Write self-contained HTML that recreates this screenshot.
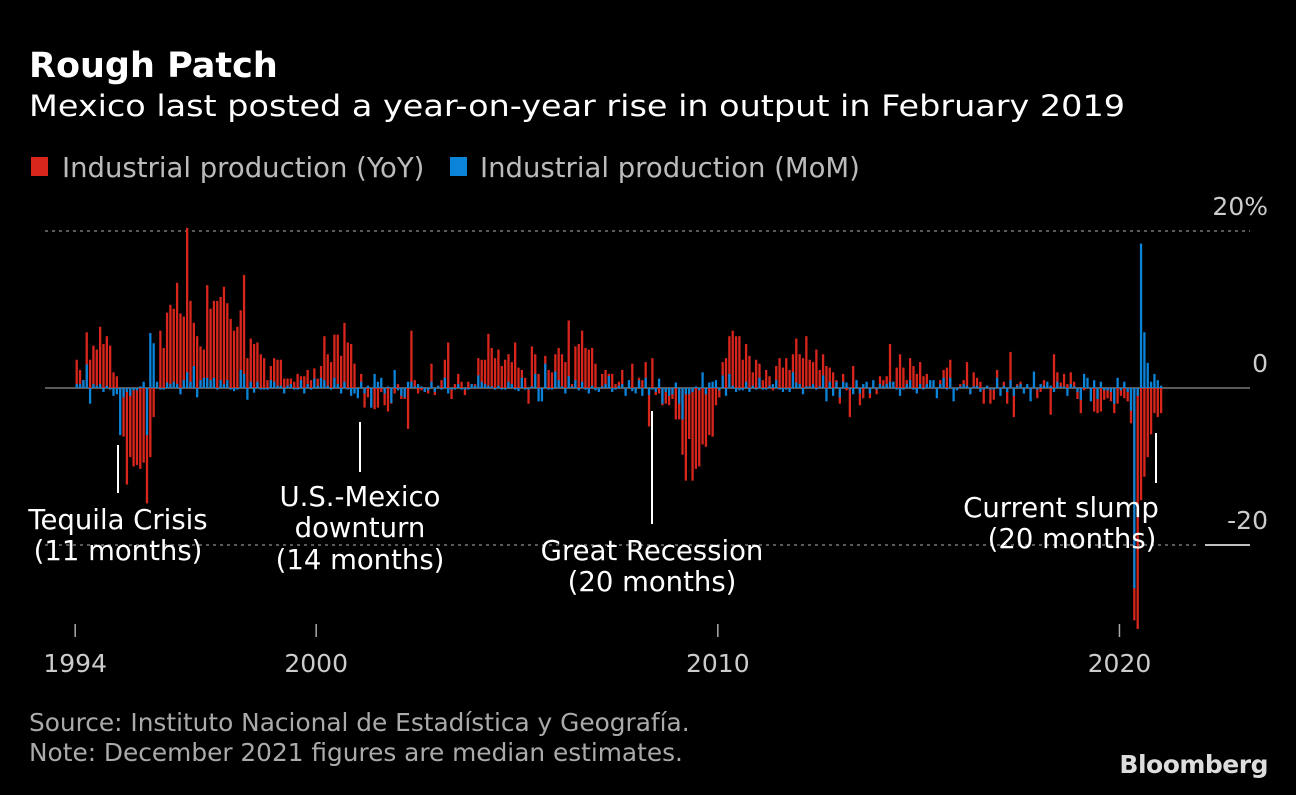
<!DOCTYPE html>
<html><head><meta charset="utf-8">
<style>
html,body{margin:0;padding:0;background:#000;}
body{width:1296px;height:790px;overflow:hidden;font-family:"Liberation Sans","DejaVu Sans",sans-serif;color:#fff;}
svg text{font-family:"DejaVu Sans","Liberation Sans",sans-serif;}
</style></head>
<body>
<svg id="chart" width="1296" height="790" viewBox="0 0 1296 790" xmlns="http://www.w3.org/2000/svg">
<text x="29" y="77" font-size="35" font-weight="bold" fill="#fff">Rough Patch</text>
<text x="29" y="116" font-size="29" fill="#fff" textLength="1096" lengthAdjust="spacingAndGlyphs">Mexico last posted a year-on-year rise in output in February 2019</text>
<g>
<rect x="31" y="157" width="17" height="19" fill="#d9261c"/>
<text x="62" y="177" font-size="27.5" fill="#bbb">Industrial production (YoY)</text>
<rect x="450" y="157" width="17" height="19" fill="#0a84d9"/>
<text x="480" y="177" font-size="27.5" fill="#bbb">Industrial production (MoM)</text>
</g>
<g id="grid"></g>
<g id="bars"></g>
<g id="axis"></g>
<g id="yaxis"></g>
<g id="notes"></g>
<text x="29" y="731" font-size="24.8" fill="#aaa">Source: Instituto Nacional de Estadística y Geografía.</text>
<text x="29" y="761" font-size="24.8" fill="#aaa">Note: December 2021 figures are median estimates.</text>
<text x="1268" y="773" font-size="25" font-weight="bold" fill="#ddd" text-anchor="end" font-family="Liberation Sans, sans-serif" letter-spacing="-0.5">Bloomberg</text>
</svg>
<script>
const yoy = [3.6,2.3,1.0,7.1,3.6,5.4,4.9,7.8,5.6,6.6,5.4,2.0,1.5,-0.5,-6.2,-12.3,-8.8,-10,-9.8,-10.3,-9.5,-14.7,-8.8,-3.7,0.3,7.3,5.1,9.6,10.6,10.1,13.4,9.5,9.1,20.4,11.1,8.3,6.6,5.3,4.9,13.1,10.1,11.1,11.1,11.6,12.9,10.8,8.8,7.3,7.8,9.9,14.4,3.8,6.3,5.6,5.8,4.3,3.8,1.0,2.8,3.8,3.6,
3.6,1.2,1.2,1.2,0.8,1.8,1.5,1.5,2.3,1.0,2.5,1.2,2.8,6.6,4.3,3.3,6.8,6.8,4.1,8.3,5.8,5.6,3.1,-0.3,1.8,-2.5,-1.2,-2.5,-2.7,-2.5,-0.5,-2.2,-3.0,-2.0,-0.7,0.5,-1.4,-1.4,-5.2,7.3,1.0,-0.7,-0.3,-0.5,-0.7,3.1,-0.9,0.2,1.0,3.6,5.8,-1.4,0.5,1.8,0.8,-0.9,0.8,0.5,0.5,3.8,3.6,3.6,
6.9,5.1,3.8,4.9,2.8,3.6,4.3,3.3,5.8,2.6,2.3,1.3,-2.0,5.3,4.3,1.8,-0.3,4.1,2.3,2.0,4.3,5.1,4.3,3.3,8.6,0.5,5.3,5.6,7.3,5.1,4.9,5.1,3.1,-0.2,1.8,2.3,1.8,1.8,0.5,0.8,2.3,-0.3,0.2,3.1,-0.3,1.3,
1.0,3.3,-4.9,3.8,-0.9,-0.7,-2.2,-2.0,-2.2,-1.4,-4.0,-4.0,-8.5,-11.8,-6.5,-11.8,-10.3,-10.0,-7.2,-7.5,-6.0,-6.2,-2.2,-1.2,3.3,3.8,6.6,7.3,6.6,6.6,3.6,5.6,4.1,2.0,3.6,3.1,1.0,2.3,1.5,-0.3,2.8,3.8,2.6,3.8,2.3,4.3,6.3,4.3,3.8,6.6,3.6,3.3,4.9,2.3,4.3,2.8,2.6,2.0,1.0,-2.0,1.8,-0.3,-3.7,
2.8,0.3,-2.2,-1.3,0.3,-1.3,0.2,-0.8,1.5,1.0,1.5,5.6,0.8,2.6,4.3,2.6,1.0,3.8,2.8,1.8,3.3,1.5,1.8,0.8,0.2,-0.2,1.0,2.3,2.6,3.6,-0.3,-0.2,0.5,1.0,3.3,-0.8,2.0,1.3,0.8,-2.0,0.3,-2.0,-1.5,2.3,-0.2,0.8,-2.0,4.6,-3.7,0.5,0.8,-0.3,0.2,-0.5,0.3,-1.3,
-0.5,1.0,0.2,-3.4,4.3,2.0,0.7,1.8,0.5,2.0,0.8,-1.4,-3.2,-0.3,0.1,-0.3,-3.0,-3.2,-3.0,-1.5,-1.3,-1.7,-3.2,-2.0,-1.0,-1.3,-1.7,-4.5,-29.6,-30.7,-14.3,-11.3,-8.8,-5.9,-3.2,-3.7,-3.2];
const mom = [0.5,0.5,1,3,-2,0.5,0.3,0.5,-0.5,0.3,-0.2,-1,-0.8,-6,-1.2,-0.5,-1,-0.3,-0.3,0.2,0.8,-6,7,5.7,0.8,-0.2,-0.2,0.7,0.5,0.8,0.5,-0.8,1,2,0.8,2.8,-1.2,1,1.3,1.3,1,1.3,-0.2,1,0.5,1,-0.2,-0.4,-0.2,2.3,1.8,-1.5,0.8,-0.6,0.8,-0.2,-0.2,-0.2,1,0.8,0.3,
0.3,-0.7,0.3,0.5,-0.2,-0.2,1,-0.7,0.5,-0.2,1.2,0.3,1.3,1,0.3,-0.2,1.3,0.5,-0.7,0.8,-0.2,-1,-0.7,-1.3,0.8,-0.7,0.3,-2.5,1.8,0.8,1.3,-0.7,0.2,-1.9,2.3,-0.3,-1,-1.2,0.8,0.8,0.2,0.5,0.2,-0.5,-0.3,0.8,-0.5,0.3,-0.2,1.3,-0.7,-0.2,-0.2,0.5,-0.2,-0.2,-0.2,0.5,0.3,1.6,0.8,0.5,
0.3,0.2,-0.2,0.3,-0.2,-0.2,0.8,0.5,-0.2,-0.4,1.3,-0.2,-0.2,0.2,1.8,-1.7,-1.7,3.1,-0.2,-0.2,2.1,1,0.2,-0.7,1.5,0.2,1,-0.3,0.8,-0.2,-0.7,0.3,-0.3,-0.5,0.2,0.5,1.5,-0.5,-0.2,0.3,0.5,-1,1,-0.4,-0.7,1,
-1,1.3,-0.9,-0.2,-0.5,1.2,-2,-0.5,-1,-0.8,0.7,-2,-4,-0.8,-0.8,-0.5,0.2,-0.3,2,-0.8,0.7,0.8,1,-0.3,1.6,-1,1.8,0.3,-0.5,-0.3,-0.3,0.8,-0.5,0.3,-0.2,1.3,-0.2,-0.2,0.3,0.5,1,-0.2,-0.5,-0.2,-0.5,2,0.7,0.5,-0.8,0.2,0.2,0.5,-0.2,0.2,1.6,-1.7,0.8,-1,0.8,-1.2,0.8,0.7,-0.2,
-0.8,1,-0.7,0.5,0.8,-0.7,1,-0.2,0.5,0.3,0.5,0.8,0.8,-0.2,-1,-0.2,0.5,1,-0.2,-0.7,0.5,-0.2,0.5,1,1,-1.3,0.5,1.3,-0.2,1.3,-1.7,-0.3,0.2,0.5,0.3,-0.8,0.2,0.3,-0.5,-0.2,0.3,-0.2,-0.2,1.3,-1,0.3,-0.5,1,-1,0.3,0.5,-0.7,0.5,-1.7,2.1,-0.2,
0.5,0.3,0.8,0.3,-0.5,0.8,0.2,0.2,-1,0.5,0.2,-0.5,-1.5,1.8,1.3,-1.7,1,-1.4,0.8,-0.3,-0.3,-0.5,-2,1.3,-0.3,0.8,-0.5,-2.9,-25.5,-1,18.4,7.1,3.2,0.8,1.8,1,0.3];
const yTicks = [20, 0, -20];
const yTickLabels = ["20%", "0", "-20"];
const xTickYears = [1994, 2000, 2010, 2020];
const xTickIndex = [0, 72, 192, 312];

const NS = "http://www.w3.org/2000/svg";
const X0 = 76.7, STEP = 3.347, Y0 = 388, PPU = 7.85;
function xs(i){ return X0 + i*STEP; }
function ys(v){ return Y0 - v*PPU; }
function mk(tag, attrs, parent){ const e=document.createElementNS(NS,tag); for(const k in attrs) e.setAttribute(k,attrs[k]); parent.appendChild(e); return e; }

const grid = document.getElementById('grid');
yTicks.forEach((t,k)=>{
  let ln;
  if(t===0){
    ln = mk('line',{x1:45,x2:1250,y1:ys(t),y2:ys(t),stroke:'#777','stroke-width':1.5},grid);
  } else {
    ln = mk('line',{x1:45,x2:t<0?1200:1250,y1:ys(t),y2:ys(t),stroke:'#777','stroke-width':1.5,'stroke-dasharray':'3 4'},grid);
  }
  
  
});
const ya = document.getElementById('yaxis');
yTicks.forEach((t,k)=>{
  const tx = mk('text',{x:1268,y:ys(t)-16,'font-size':25,fill:'#ccc','text-anchor':'end'},ya);
  tx.textContent = yTickLabels[k];
  
  
});
const wl = mk('line',{x1:1205,x2:1250,y1:ys(-20),y2:ys(-20),stroke:'#fff','stroke-width':1.5},ya);



const bars = document.getElementById('bars');
const BW = 2.3;
yoy.forEach((v,i)=>{
  const y = Math.min(ys(v),Y0), h = Math.abs(ys(v)-Y0);
  const r = mk('rect',{x:xs(i)-BW/2,y:y,width:BW,height:Math.max(h,0.3),fill:'#d9261c'},bars);
  
  
});
mom.forEach((v,i)=>{
  const y = Math.min(ys(v),Y0), h = Math.abs(ys(v)-Y0);
  const r = mk('rect',{x:xs(i)-BW/2,y:y,width:BW,height:Math.max(h,0.3),fill:'#0a84d9'},bars);
  
  
});

const ax = document.getElementById('axis');
xTickYears.forEach((yr,k)=>{
  const x = xs(xTickIndex[k]) - 1.5;
  const t = mk('line',{x1:x,x2:x,y1:624,y2:637,stroke:'#aaa','stroke-width':1.5},ax);
  
  
  const l = mk('text',{x:x,y:672,'font-size':25,fill:'#ccc','text-anchor':'middle'},ax);
  l.textContent = yr;
  
  
});

const notes = document.getElementById('notes');
const annLines = [[118,445,493],[360,422,472],[652,411,524],[1156,433,483]];
annLines.forEach(a=>{
  const l = mk('line',{x1:a[0],x2:a[0],y1:a[1],y2:a[2],stroke:'#fff','stroke-width':2},notes);
  
  
});
const annText = [[118,529,'Tequila Crisis'],[118,560,'(11 months)'],[360,506,'U.S.-Mexico'],[360,537,'downturn'],[360,569,'(14 months)'],[652,560,'Great Recession'],[652,591,'(20 months)'],[1061,517,'Current slump'],[1072,548,'(20 months)']];
annText.forEach(a=>{
  const t = mk('text',{x:a[0],y:a[1],'font-size':27.5,fill:'#fff','text-anchor':'middle'},notes);
  t.textContent = a[2];
  
  
});
</script>
</body></html>
